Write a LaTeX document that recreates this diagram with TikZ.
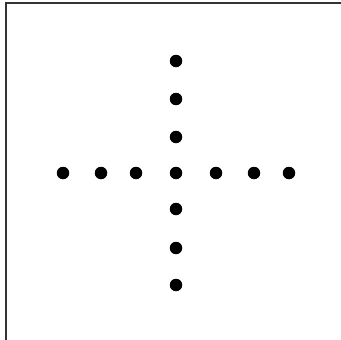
\documentclass[tikz,border=0pt]{standalone}
\begin{document}
\begin{tikzpicture}[x=1pt,y=-1pt,
  dotmark/.style={circle,fill=black,inner sep=0pt,minimum size=12.5pt},
  frameline/.style={draw=black!80,line width=1.8pt}]
\useasboundingbox (0,0) rectangle (341,340);
\fill[white] (0,0) rectangle (341,340);
\draw[frameline] (6,340) -- (6,3) -- (341,3);
% horizontal row
\foreach \x [count=\i] in {63,101,136,176,216,254,289}
  \node[dotmark] (h\i) at (\x,173) {};
% vertical column
\foreach \y [count=\i] in {61,99,137,209,248,285}
  \node[dotmark] (v\i) at (176,\y) {};
\end{tikzpicture}
\end{document}
